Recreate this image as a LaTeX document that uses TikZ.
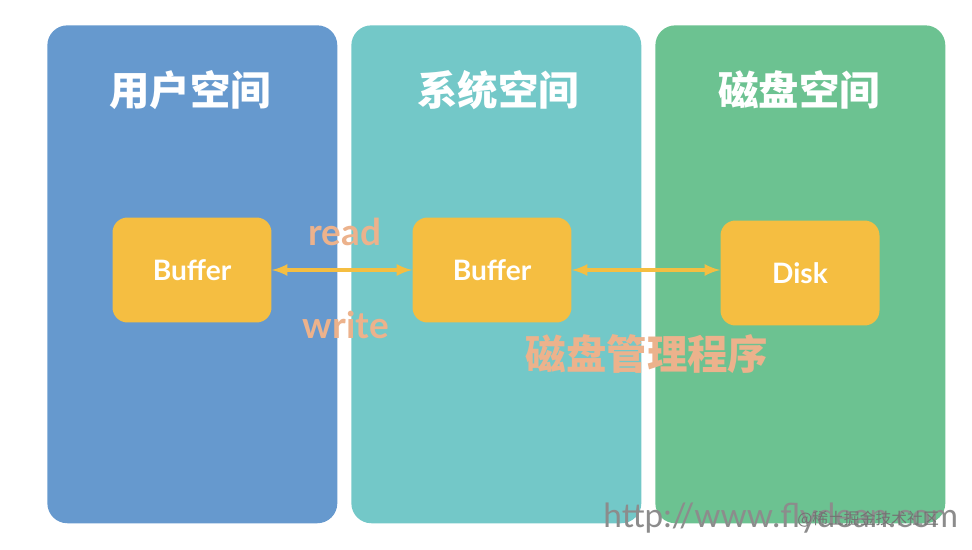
\documentclass[tikz,border=0pt]{standalone}
\usepackage{fontspec}
\setmainfont{Lato}
\newfontfamily\cjk{Noto Sans CJK SC}
\usetikzlibrary{positioning}
\definecolor{userblue}{RGB}{102,153,206}
\definecolor{syscyan}{RGB}{115,200,200}
\definecolor{diskgreen}{RGB}{108,194,145}
\definecolor{bufyellow}{RGB}{245,190,65}
\definecolor{salmon}{RGB}{236,178,140}
\tikzset{
	space/.style={
		rectangle, minimum width=5.8cm, minimum height=9.96cm, rounded corners=4mm,
		draw=none, anchor=north west
	},
	%
	title/.style={
		text=white, font=\cjk\bfseries\fontsize{23}{26}\selectfont
	},
	%
	buf/.style={
		rectangle, minimum width=3.18cm, minimum height=2.1cm, rounded corners=3mm,
		fill=bufyellow, text=white, font=\bfseries\fontsize{16}{19}\selectfont
	},
	%
	note/.style={
		text=salmon, font=\bfseries\fontsize{21}{24}\selectfont
	},
	%
	io/.style={<->, >=latex, line width=2pt, bufyellow}
}
\begin{document}
\begin{tikzpicture}[x=0.02cm,y=-0.02cm]
\useasboundingbox (0,0) rectangle (972,550);
%spaces
\node (user) [space, fill=userblue] at (47,25) {};
\node (sys) [space, fill=syscyan] at (351,25) {};
\node (disk) [space, fill=diskgreen] at (655,25) {};

\node (userT) [title] at (190,90) {用户空间};
\node (sysT) [title] at (498,90) {系统空间};
\node (diskT) [title] at (799,90) {磁盘空间};

%buffers
\node (ubuf) [buf] at (192,270) {Buffer};
\node (sbuf) [buf] at (492,270) {Buffer};
\node (dsk) [buf] at (800,273) {Disk};

%arrows
\draw[io] (ubuf.east) -- (sbuf.west);
\draw[io] (sbuf.east) -- (sbuf.east -| dsk.west);

\node (rd) [note] at (345,232) {read};
\node (wr) [note] at (346,325) {write};
\node (mgr) [note, font=\cjk\bfseries\fontsize{23}{26}\selectfont] at (647,354) {磁盘管理程序};

%watermark
\node (url) [text=black!45, font=\fontsize{19}{22}\selectfont, anchor=west, inner sep=0pt] at (603,518) {http://www.flydean.com};
\node (wm) [text=black!55, font=\cjk\fontsize{9}{11}\selectfont, anchor=west, inner sep=0pt] at (797,519) {@稀土掘金技术社区};
\end{tikzpicture}
\end{document}
